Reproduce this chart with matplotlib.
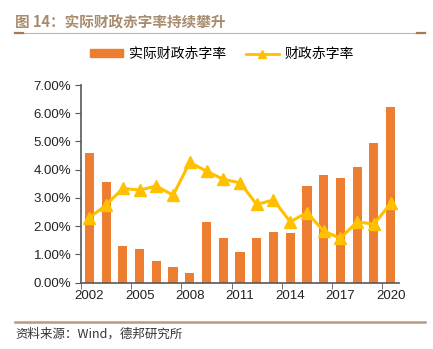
import numpy as np
import matplotlib
matplotlib.use('Agg')
import matplotlib.pyplot as plt
from matplotlib.lines import Line2D
from matplotlib.patches import Patch

plt.rcParams['font.family'] = ['Noto Sans CJK SC', 'DejaVu Sans']

years = list(range(2002, 2021))
actual_deficit = [4.58, 3.55, 1.30, 1.19, 0.77, 0.55, 0.34, 2.14, 1.58, 1.07,
                  1.58, 1.79, 1.75, 3.42, 3.80, 3.72, 4.11, 4.93, 6.21]
fiscal_deficit = [2.30, 2.75, 3.34, 3.28, 3.42, 3.10, 4.26, 3.95, 3.66, 3.54,
                  2.77, 2.93, 2.16, 2.48, 1.83, 1.57, 2.16, 2.07, 2.81]
yticks = [0, 1, 2, 3, 4, 5, 6, 7]

bar_color = '#ED7D31'
line_color = '#FFC000'

W, H = 433, 349
fig = plt.figure(figsize=(W / 100, H / 100), dpi=100)

# 标题和分隔线
fig.text(15 / W, 1 - 22 / H, '图 14：实际财政赤字率持续攀升', fontsize=10.5, fontweight='bold',
         color='#A88C6E', va='center', ha='left')
brown_light = '#CDB49C'
brown_dark = '#A57A55'
fig.add_artist(Line2D([15 / W, 425 / W], [1 - 33 / H, 1 - 33 / H], color=brown_light, lw=0.8))
fig.add_artist(Line2D([15 / W, 23 / W], [1 - 33 / H, 1 - 33 / H], color=brown_dark, lw=1.6))
fig.add_artist(Line2D([417 / W, 425 / W], [1 - 33 / H, 1 - 33 / H], color=brown_dark, lw=1.6))
fig.add_artist(Line2D([15 / W, 425 / W], [1 - 322 / H, 1 - 322 / H], color='#B89A7E', lw=1.8))
fig.text(15 / W, 1 - 334 / H, '资料来源：Wind，德邦研究所', fontsize=9, color='#333333',
         va='center', ha='left')

ax = fig.add_axes([81 / W, 1 - 282.7 / H, 318 / W, (282.7 - 85) / H])
x = np.arange(len(years))
ax.bar(x, actual_deficit, width=0.55, color=bar_color, zorder=2)
ax.plot(x, fiscal_deficit, color=line_color, lw=2.2, marker='^', markersize=8, zorder=3)

ax.set_xlim(-0.5, len(years) - 0.5)
ax.set_ylim(0, 7)
ax.set_yticks(yticks)
ax.set_yticklabels(['%.2f%%' % v for v in yticks], fontsize=9.5, color='#222222',
                   family=['Liberation Sans'])
ax.set_xticks(x[::3])
ax.set_xticklabels([str(y) for y in years[::3]], fontsize=9.5, color='#222222',
                   family=['Liberation Sans'])
ax.set_xticks(x[::3] - 0.5, minor=True)
ax.tick_params(axis='x', which='major', length=0, pad=5)
ax.tick_params(axis='x', which='minor', length=4, direction='out', color='#595959')
ax.tick_params(axis='y', length=4, direction='out', color='#595959', pad=3)
for s in ['top', 'right']:
    ax.spines[s].set_visible(False)
for s in ['left', 'bottom']:
    ax.spines[s].set_color('#595959')
    ax.spines[s].set_linewidth(1.2)

handles = [Patch(color=bar_color),
           Line2D([], [], color=line_color, lw=2, marker='^', markersize=6)]
leg = fig.legend(handles, ['实际财政赤字率', '财政赤字率'], loc='center',
                 bbox_to_anchor=(222 / W, 1 - 54 / H), ncol=2, frameon=False,
                 fontsize=10, handlelength=2.4, handleheight=0.5, columnspacing=1.4,
                 handletextpad=0.4)

fig.savefig('out.png', dpi=100)
